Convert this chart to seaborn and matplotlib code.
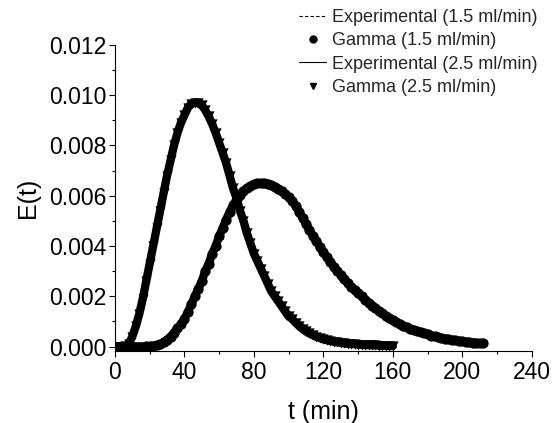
import numpy as np
import pandas as pd
import matplotlib
matplotlib.use("Agg")
import matplotlib.pyplot as plt
import seaborn as sns
from matplotlib.lines import Line2D
from matplotlib.ticker import MultipleLocator, FormatStrFormatter

# ---- data ----
t_15 = list(range(0, 214, 2))
e_15 = [0, 0, 0, 0, 0, 0, 0, 0, 0, 0.000005,
        0.00001, 0.00003, 0.00006, 0.0001, 0.00017, 0.00027, 0.0004, 0.00055, 0.00072, 0.0009,
        0.0011, 0.00138, 0.00168, 0.002, 0.0023, 0.0026, 0.003, 0.0033, 0.0037, 0.004,
        0.0044, 0.0047, 0.00505, 0.00535, 0.00562, 0.00585, 0.00604, 0.00619, 0.0063, 0.00639,
        0.00645, 0.00649, 0.0065, 0.0065, 0.00647, 0.00642, 0.00636, 0.00627, 0.00617, 0.00606,
        0.00594, 0.0058, 0.0056, 0.00536, 0.00512, 0.00488, 0.00464, 0.0044, 0.00418, 0.00396,
        0.00375, 0.00355, 0.00336, 0.00318, 0.003, 0.00283, 0.00267, 0.00252, 0.00237, 0.00225,
        0.00212, 0.002, 0.00187, 0.00175, 0.00163, 0.00152, 0.00142, 0.00132, 0.00122, 0.00113,
        0.00105, 0.00097, 0.0009, 0.00083, 0.00077, 0.00071, 0.00066, 0.00061, 0.00056, 0.00052,
        0.00048, 0.00044, 0.00041, 0.00038, 0.00035, 0.00032, 0.0003, 0.00027, 0.00025, 0.00023,
        0.00021, 0.00019, 0.00018, 0.00016, 0.00015, 0.00014, 0.00013]

t_25 = list(range(0, 162, 2))
e_25 = [0, 0, 0, 0.00002, 0.0001, 0.0004, 0.0008, 0.0013, 0.0019, 0.0026,
        0.0033, 0.004, 0.0047, 0.0054, 0.0061, 0.0068, 0.0074, 0.008, 0.0085, 0.0089,
        0.0092, 0.0095, 0.00966, 0.0097, 0.00968, 0.0096, 0.0094, 0.00915, 0.00885, 0.0085,
        0.0081, 0.0077, 0.0073, 0.0068, 0.0063, 0.0059, 0.0054, 0.005, 0.0045, 0.0041,
        0.0037, 0.0034, 0.0031, 0.0028, 0.0025, 0.0022, 0.002, 0.0018, 0.0016, 0.0014,
        0.0012, 0.0011, 0.00095, 0.00082, 0.0007, 0.0006, 0.00052, 0.00045, 0.00039, 0.00034,
        0.00029, 0.00025, 0.00022, 0.00019, 0.00017, 0.00015, 0.00013, 0.00011, 0.0001, 0.00009,
        0.00008, 0.00007, 0.00006, 0.000055, 0.00005, 0.000045, 0.00004, 0.000035, 0.00003, 0.000025,
        0.00002]

labels = ["Experimental (1.5 ml/min)", "Gamma (1.5 ml/min)",
          "Experimental (2.5 ml/min)", "Gamma (2.5 ml/min)"]
x_ticks = [0, 40, 80, 120, 160, 200, 240]
y_ticks = [0.000, 0.002, 0.004, 0.006, 0.008, 0.010, 0.012]

df15 = pd.DataFrame({"t": t_15, "E": e_15})
df25 = pd.DataFrame({"t": t_25, "E": e_25})

sns.set_theme(style="ticks")
plt.rcParams["font.family"] = ["Liberation Sans", "DejaVu Sans"]

fig = plt.figure(figsize=(5.58, 4.23), dpi=100)
ax = fig.add_axes([0.206, 0.170, 0.747, 0.724])

# gamma fits: dense markers joined by a thick band
for df, mk in [(df15, "o"), (df25, "v")]:
    sns.lineplot(data=df, x="t", y="E", ax=ax, color="black", linewidth=6.0,
                 sort=False, estimator=None)
    sns.scatterplot(data=df, x="t", y="E", ax=ax, color="black", marker=mk,
                    s=55, linewidth=0, zorder=3)
# experimental curves (thin)
sns.lineplot(data=df15, x="t", y="E", ax=ax, color="black", linewidth=0.8,
             linestyle=(0, (3, 2)), sort=False, estimator=None)
sns.lineplot(data=df25, x="t", y="E", ax=ax, color="black", linewidth=0.8,
             sort=False, estimator=None)

ax.set_xlim(0, 240)
ax.set_ylim(-0.00018, 0.012)
ax.set_xticks(x_ticks)
ax.set_yticks(y_ticks)
ax.xaxis.set_minor_locator(MultipleLocator(20))
ax.yaxis.set_minor_locator(MultipleLocator(0.001))
ax.yaxis.set_major_formatter(FormatStrFormatter("%.3f"))
ax.tick_params(axis="both", which="major", direction="out", length=4, width=0.8,
               labelsize=16.5, color="black", labelcolor="black", pad=2)
ax.tick_params(axis="x", which="major", pad=3)
ax.tick_params(axis="both", which="minor", direction="out", length=2.5, width=0.8,
               color="black")
for side in ["top", "right"]:
    ax.spines[side].set_visible(False)
for side in ["left", "bottom"]:
    ax.spines[side].set_color("black")
    ax.spines[side].set_linewidth(0.8)

ax.set_xlabel("t (min)", fontsize=18, color="black", labelpad=12)
ax.set_ylabel("E(t)", fontsize=18, color="black", labelpad=7)

handles = [
    Line2D([], [], color="black", linewidth=0.8, linestyle=(0, (3, 2))),
    Line2D([], [], color="black", linestyle="none", marker="o", markersize=5),
    Line2D([], [], color="black", linewidth=0.8),
    Line2D([], [], color="black", linestyle="none", marker="v", markersize=5),
]
leg = fig.legend(handles, labels, loc="upper left", bbox_to_anchor=(0.533, 0.983),
                 frameon=False, fontsize=13, handlelength=1.5, handletextpad=0.3,
                 labelspacing=0.35, borderaxespad=0.0, borderpad=0.1)

fig.savefig("out.png", dpi=100)
